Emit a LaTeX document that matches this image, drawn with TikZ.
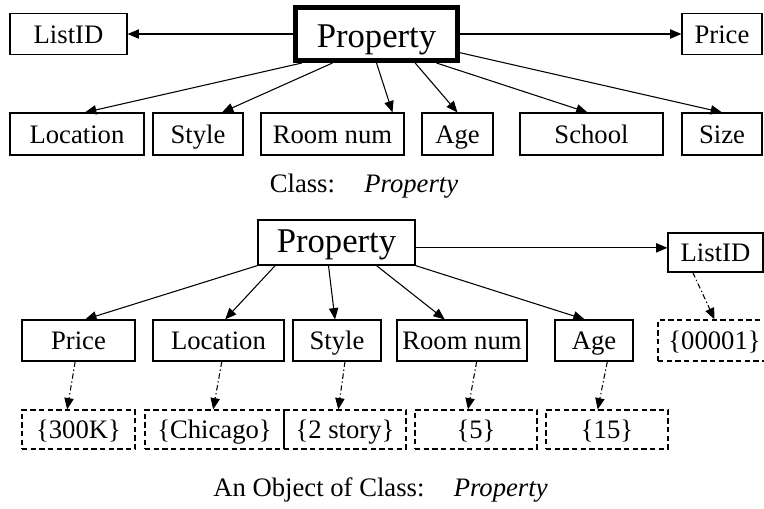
\documentclass[tikz,border=0pt]{standalone}
\usepackage{fontspec}
\setmainfont{Liberation Serif}
\usetikzlibrary{arrows.meta,calc}

\begin{document}
\begin{tikzpicture}[x=0.75pt, y=-0.75pt,
  attr/.style={draw, line width=0.9pt, inner sep=0pt, minimum height=31.5pt, text height=17pt, text depth=3.5pt, font=\fontsize{20}{24}\selectfont},
  val/.style={draw, dash pattern=on 4pt off 2.5pt, line width=0.9pt, inner sep=0pt, minimum height=29.25pt, text height=17pt, text depth=3.5pt, font=\fontsize{20}{24}\selectfont},
  arr/.style={-{Triangle[length=8.5pt,width=7pt]}, line width=0.8pt},
  link/.style={arr, dash pattern=on 4pt off 2pt on 1pt off 2pt}
]
  \useasboundingbox (0,0) rectangle (764,508);

  % class
  \node[draw, line width=3.5pt, inner sep=0pt, minimum width=121.5pt, minimum height=40pt, text height=23pt, text depth=3.5pt, font=\fontsize{26}{30}\selectfont] (prop1) at (376.5,34) {Property};
  \node[attr, minimum width=87.75pt, minimum height=30.75pt] (listid1) at (68.5,34) {ListID};
  \node[attr, minimum width=60pt, minimum height=30.75pt] (price1) at (722,34) {Price};

  \node[attr, minimum width=100.5pt] (loc1) at (77,134) {Location};
  \node[attr, minimum width=67.5pt] (style1) at (198,134) {Style};
  \node[attr, minimum width=107.25pt] (room1) at (332.5,134) {Room num};
  \node[attr, minimum width=53.25pt] (age1) at (457.5,134) {Age};
  \node[attr, minimum width=107.25pt] (school1) at (591.5,134) {School};
  \node[attr, minimum width=60pt] (size1) at (722,134) {Size};

  \draw[arr] (prop1) -- (listid1);
  \draw[arr] (prop1) -- (price1);
  \draw[arr] ([xshift=-56pt]prop1.south) -- ([xshift=6pt]loc1.north);
  \draw[arr] ([xshift=-33pt]prop1.south) -- ([xshift=18pt]style1.north);
  \draw[arr] (prop1.south) -- ([xshift=45pt]room1.north);
  \draw[arr] ([xshift=29pt]prop1.south) -- (age1.north);
  \draw[arr] ([xshift=45pt]prop1.south) -- ([xshift=-3pt]school1.north);
  \draw[arr] ([yshift=-14pt]prop1.east) -- (size1.north);

  \node[font=\fontsize{20}{24}\selectfont] (cap1) at (364,186) {Class:\hspace{22pt}\textit{Property}};

  % object
  \node[draw, line width=0.9pt, inner sep=0pt, minimum width=117.75pt, minimum height=33.75pt, text height=19.5pt, text depth=5pt, font=\fontsize{26}{30}\selectfont] (prop2) at (336.5,242.5) {Property};
  \node[attr, minimum width=71.25pt, minimum height=29.25pt] (listid2) at (715.5,252.5) {ListID};

  \node[attr, minimum width=84.75pt, minimum height=30.75pt] (price2) at (78.5,340.5) {Price};
  \node[attr, minimum width=98.25pt, minimum height=30.75pt] (loc2) at (218.5,340.5) {Location};
  \node[attr, minimum width=66pt, minimum height=30.75pt] (style2) at (337,340.5) {Style};
  \node[attr, minimum width=97.5pt, minimum height=30.75pt] (room2) at (462,340.5) {Room num};
  \node[attr, minimum width=58.5pt, minimum height=30.75pt] (age2) at (594,340.5) {Age};
  \node[val, minimum width=84.75pt, minimum height=30.75pt] (v00001) at (714.5,340.5) {\{00001\}};

  \node[val, minimum width=84.75pt] (v300k) at (78.5,429.5) {\{300K\}};
  \node[val, minimum width=104.25pt] (vchicago) at (214.5,429.5) {\{Chicago\}};
  \node[val, minimum width=91.5pt] (v2story) at (345,429.5) {\{2 story\}};
  \node[val, minimum width=91.5pt] (v5) at (476,429.5) {\{5\}};
  \node[val, minimum width=91.5pt] (v15) at (607,429.5) {\{15\}};

  \draw[arr] ([yshift=-4pt]prop2.east) -- ([yshift=-4pt]prop2.east -| listid2.west);
  \draw[arr] (prop2.south west) -- ([xshift=5pt]price2.north);
  \draw[arr] ([xshift=-46pt]prop2.south) -- ([xshift=5pt]loc2.north);
  \draw[arr] ([xshift=-6pt]prop2.south) -- ([xshift=-1.5pt]style2.north);
  \draw[arr] ([xshift=30pt]prop2.south) -- ([xshift=-13pt]room2.north);
  \draw[arr] (prop2.south east) -- ([xshift=-7pt]age2.north);

  \draw[link] ([xshift=-2.5pt]price2.south) -- ([xshift=-8.5pt]v300k.north);
  \draw[link] ([xshift=2.5pt]loc2.south) -- ([xshift=-1pt]vchicago.north);
  \draw[link] ([xshift=6pt]style2.south) -- ([xshift=-5pt]v2story.north);
  \draw[link] ([xshift=11pt]room2.south) -- ([xshift=-6pt]v5.north);
  \draw[link] ([xshift=10pt]age2.south) -- ([xshift=-7pt]v15.north);
  \draw[link] ([xshift=-17pt]listid2.south) -- (v00001.north);

  \node[font=\fontsize{20}{24}\selectfont] (cap2) at (380.5,490) {An Object of Class:\hspace{22pt}\textit{Property}};
\end{tikzpicture}
\end{document}
